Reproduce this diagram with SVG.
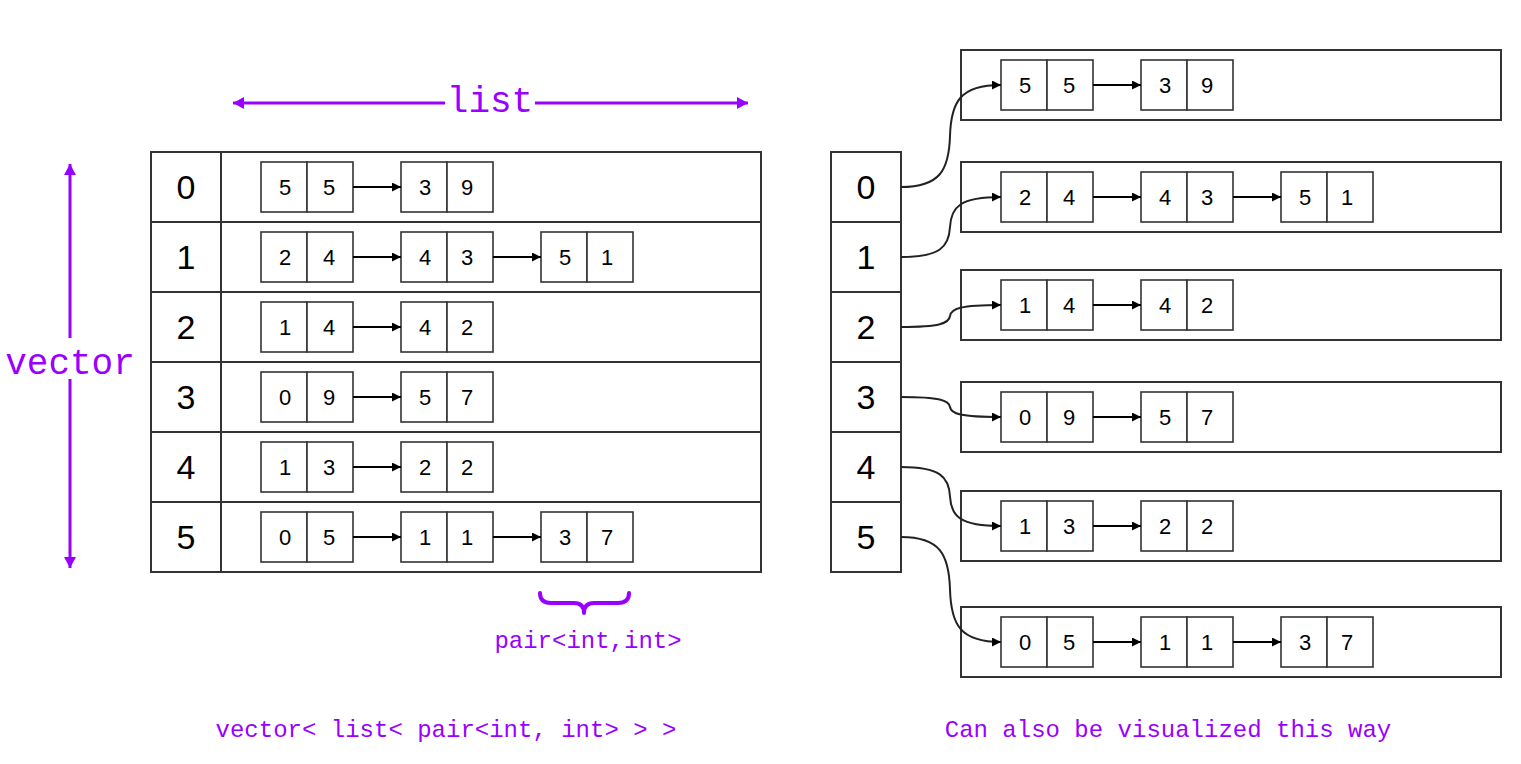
<svg xmlns="http://www.w3.org/2000/svg" xmlns:xlink="http://www.w3.org/1999/xlink" width="1521" height="764" viewBox="0 0 1521 764">
<style>
.frame{fill:#fff;stroke:#333;stroke-width:2}
.cell{fill:#fff;stroke:#333;stroke-width:1.6}
.idx{font-family:"Liberation Sans",Arial,sans-serif;font-size:34px;fill:#000;text-anchor:middle}
.num{font-family:"Liberation Sans",Arial,sans-serif;font-size:22px;fill:#000;text-anchor:middle}
.mono{font-family:"Liberation Mono","Courier New",monospace;fill:#9900FF}
.link{fill:none;stroke:#000;stroke-width:2;marker-end:url(#ah)}
.curve{fill:none;stroke:#222;stroke-width:2;marker-end:url(#ah)}
.pl{fill:none;stroke:#9900FF;stroke-width:3}
</style>
<defs>
<marker id="ah" markerUnits="userSpaceOnUse" markerWidth="12" markerHeight="12" refX="9" refY="4.5" orient="auto">
<path d="M0,0 L9,4.5 L0,9 z" fill="#000"/>
</marker>
<marker id="pa" markerUnits="userSpaceOnUse" markerWidth="14" markerHeight="14" refX="11" refY="6" orient="auto">
<path d="M0,0 L11,6 L0,12 z" fill="#9900FF"/>
</marker>
<g id="pair">
<rect class="cell" x="0" y="0" width="46" height="50"/>
<rect class="cell" x="46" y="0" width="46" height="50"/>
</g>
</defs>
<rect width="1521" height="764" fill="#fff"/>

<!-- labels -->
<g id="list-label">
<line class="pl" x1="445" y1="103" x2="233" y2="103" marker-end="url(#pa)"/>
<line class="pl" x1="535" y1="103" x2="748" y2="103" marker-end="url(#pa)"/>
<text class="mono" x="490" y="112" font-size="36" text-anchor="middle">list</text>
</g>
<g id="vector-label">
<line class="pl" x1="70" y1="338" x2="70" y2="164" marker-end="url(#pa)"/>
<line class="pl" x1="70" y1="379" x2="70" y2="568" marker-end="url(#pa)"/>
<text class="mono" x="70" y="374" font-size="36" text-anchor="middle">vector</text>
</g>
<g id="pair-label">
<path d="M540,593 Q540,603 551,603 L574,603 Q584,603 584,613 Q584,603 594,603 L618,603 Q629,603 629,593" fill="none" stroke="#9900FF" stroke-width="4" stroke-linecap="round" stroke-linejoin="round"/>
<text class="mono" x="588" y="648" font-size="24" text-anchor="middle">pair&lt;int,int&gt;</text>
</g>
<g id="caption-left"><text class="mono" x="446" y="737" font-size="24" text-anchor="middle" xml:space="preserve">vector&lt; list&lt; pair&lt;int, int&gt; &gt; &gt;</text></g>
<g id="caption-right"><text class="mono" x="1168" y="737" font-size="24" text-anchor="middle">Can also be visualized this way</text></g>

<!-- left table -->
<g id="left-table">
<rect class="frame" x="151" y="152" width="610" height="420"/>
<line class="frame" x1="221" y1="152" x2="221" y2="572"/>
<line class="frame" x1="151" y1="222" x2="761" y2="222"/>
<line class="frame" x1="151" y1="292" x2="761" y2="292"/>
<line class="frame" x1="151" y1="362" x2="761" y2="362"/>
<line class="frame" x1="151" y1="432" x2="761" y2="432"/>
<line class="frame" x1="151" y1="502" x2="761" y2="502"/>
<text class="idx" x="186" y="199">0</text>
<text class="idx" x="186" y="269">1</text>
<text class="idx" x="186" y="339">2</text>
<text class="idx" x="186" y="409">3</text>
<text class="idx" x="186" y="479">4</text>
<text class="idx" x="186" y="549">5</text>
</g>

<!-- right index column -->
<g id="right-index">
<rect class="frame" x="831" y="152" width="70" height="420"/>
<line class="frame" x1="831" y1="222" x2="901" y2="222"/>
<line class="frame" x1="831" y1="292" x2="901" y2="292"/>
<line class="frame" x1="831" y1="362" x2="901" y2="362"/>
<line class="frame" x1="831" y1="432" x2="901" y2="432"/>
<line class="frame" x1="831" y1="502" x2="901" y2="502"/>
<text class="idx" x="866" y="199">0</text>
<text class="idx" x="866" y="269">1</text>
<text class="idx" x="866" y="339">2</text>
<text class="idx" x="866" y="409">3</text>
<text class="idx" x="866" y="479">4</text>
<text class="idx" x="866" y="549">5</text>
</g>

<!-- right list frames -->
<g id="right-lists">
<rect class="frame" x="961" y="50" width="540" height="70"/>
<rect class="frame" x="961" y="162" width="540" height="70"/>
<rect class="frame" x="961" y="270" width="540" height="70"/>
<rect class="frame" x="961" y="382" width="540" height="70"/>
<rect class="frame" x="961" y="491" width="540" height="70"/>
<rect class="frame" x="961" y="607" width="540" height="70"/>
</g>

<!-- left pairs -->
<g id="left-row0">
<use xlink:href="#pair" x="261" y="162"/><text class="num" x="285" y="195">5</text><text class="num" x="329" y="195">5</text>
<use xlink:href="#pair" x="401" y="162"/><text class="num" x="425" y="195">3</text><text class="num" x="467" y="195">9</text>
</g>
<g id="left-row1">
<use xlink:href="#pair" x="261" y="232"/><text class="num" x="285" y="265">2</text><text class="num" x="329" y="265">4</text>
<use xlink:href="#pair" x="401" y="232"/><text class="num" x="425" y="265">4</text><text class="num" x="467" y="265">3</text>
<use xlink:href="#pair" x="541" y="232"/><text class="num" x="565" y="265">5</text><text class="num" x="607" y="265">1</text>
</g>
<g id="left-row2">
<use xlink:href="#pair" x="261" y="302"/><text class="num" x="285" y="335">1</text><text class="num" x="329" y="335">4</text>
<use xlink:href="#pair" x="401" y="302"/><text class="num" x="425" y="335">4</text><text class="num" x="467" y="335">2</text>
</g>
<g id="left-row3">
<use xlink:href="#pair" x="261" y="372"/><text class="num" x="285" y="405">0</text><text class="num" x="329" y="405">9</text>
<use xlink:href="#pair" x="401" y="372"/><text class="num" x="425" y="405">5</text><text class="num" x="467" y="405">7</text>
</g>
<g id="left-row4">
<use xlink:href="#pair" x="261" y="442"/><text class="num" x="285" y="475">1</text><text class="num" x="329" y="475">3</text>
<use xlink:href="#pair" x="401" y="442"/><text class="num" x="425" y="475">2</text><text class="num" x="467" y="475">2</text>
</g>
<g id="left-row5">
<use xlink:href="#pair" x="261" y="512"/><text class="num" x="285" y="545">0</text><text class="num" x="329" y="545">5</text>
<use xlink:href="#pair" x="401" y="512"/><text class="num" x="425" y="545">1</text><text class="num" x="467" y="545">1</text>
<use xlink:href="#pair" x="541" y="512"/><text class="num" x="565" y="545">3</text><text class="num" x="607" y="545">7</text>
</g>

<!-- right pairs -->
<g id="right-row0">
<use xlink:href="#pair" x="1001" y="60"/><text class="num" x="1025" y="93">5</text><text class="num" x="1069" y="93">5</text>
<use xlink:href="#pair" x="1141" y="60"/><text class="num" x="1165" y="93">3</text><text class="num" x="1207" y="93">9</text>
</g>
<g id="right-row1">
<use xlink:href="#pair" x="1001" y="172"/><text class="num" x="1025" y="205">2</text><text class="num" x="1069" y="205">4</text>
<use xlink:href="#pair" x="1141" y="172"/><text class="num" x="1165" y="205">4</text><text class="num" x="1207" y="205">3</text>
<use xlink:href="#pair" x="1281" y="172"/><text class="num" x="1305" y="205">5</text><text class="num" x="1347" y="205">1</text>
</g>
<g id="right-row2">
<use xlink:href="#pair" x="1001" y="280"/><text class="num" x="1025" y="313">1</text><text class="num" x="1069" y="313">4</text>
<use xlink:href="#pair" x="1141" y="280"/><text class="num" x="1165" y="313">4</text><text class="num" x="1207" y="313">2</text>
</g>
<g id="right-row3">
<use xlink:href="#pair" x="1001" y="392"/><text class="num" x="1025" y="425">0</text><text class="num" x="1069" y="425">9</text>
<use xlink:href="#pair" x="1141" y="392"/><text class="num" x="1165" y="425">5</text><text class="num" x="1207" y="425">7</text>
</g>
<g id="right-row4">
<use xlink:href="#pair" x="1001" y="501"/><text class="num" x="1025" y="534">1</text><text class="num" x="1069" y="534">3</text>
<use xlink:href="#pair" x="1141" y="501"/><text class="num" x="1165" y="534">2</text><text class="num" x="1207" y="534">2</text>
</g>
<g id="right-row5">
<use xlink:href="#pair" x="1001" y="617"/><text class="num" x="1025" y="650">0</text><text class="num" x="1069" y="650">5</text>
<use xlink:href="#pair" x="1141" y="617"/><text class="num" x="1165" y="650">1</text><text class="num" x="1207" y="650">1</text>
<use xlink:href="#pair" x="1281" y="617"/><text class="num" x="1305" y="650">3</text><text class="num" x="1347" y="650">7</text>
</g>

<!-- connectors -->
<g id="connectors">
<line class="link" x1="353" y1="187" x2="401" y2="187"/>
<line class="link" x1="353" y1="257" x2="401" y2="257"/>
<line class="link" x1="493" y1="257" x2="541" y2="257"/>
<line class="link" x1="353" y1="327" x2="401" y2="327"/>
<line class="link" x1="353" y1="397" x2="401" y2="397"/>
<line class="link" x1="353" y1="467" x2="401" y2="467"/>
<line class="link" x1="353" y1="537" x2="401" y2="537"/>
<line class="link" x1="493" y1="537" x2="541" y2="537"/>
<line class="link" x1="1093" y1="85" x2="1141" y2="85"/>
<line class="link" x1="1093" y1="197" x2="1141" y2="197"/>
<line class="link" x1="1233" y1="197" x2="1281" y2="197"/>
<line class="link" x1="1093" y1="305" x2="1141" y2="305"/>
<line class="link" x1="1093" y1="417" x2="1141" y2="417"/>
<line class="link" x1="1093" y1="526" x2="1141" y2="526"/>
<line class="link" x1="1093" y1="642" x2="1141" y2="642"/>
<line class="link" x1="1233" y1="642" x2="1281" y2="642"/>
<path class="curve" d="M901,187 C940,187 949,170 950,136 C951,102 960,85 1001,85"/>
<path class="curve" d="M901,257 C940,257 949,247 950,227 C951,207 960,197 1001,197"/>
<path class="curve" d="M901,327 C940,327 949,323.3 950,316 C951,308.7 960,305 1001,305"/>
<path class="curve" d="M901,397 C940,397 949,400.3 950,407 C951,413.7 960,417 1001,417"/>
<path class="curve" d="M901,467 C940,467 949,476.8 950,496.5 C951,516.2 960,526 1001,526"/>
<path class="curve" d="M901,537 C940,537 949,554.5 950,589.5 C951,624.5 960,642 1001,642"/>
</g>
</svg>
